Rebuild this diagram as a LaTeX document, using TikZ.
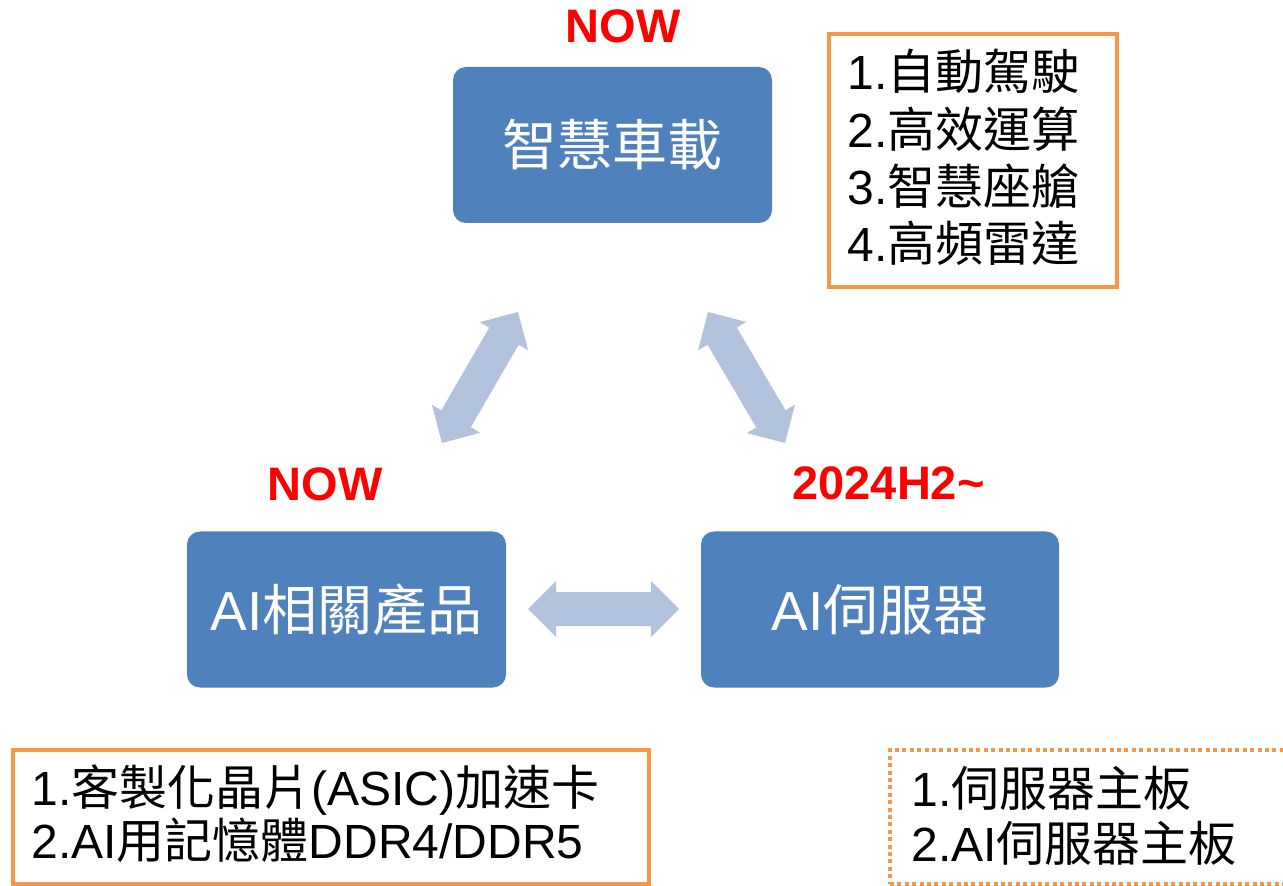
\documentclass[tikz,border=0pt]{standalone}
\usepackage{fontspec}
\setmainfont{Liberation Sans}
\newfontfamily\cjk{Noto Sans CJK TC}
\usetikzlibrary{calc}
\definecolor{boxblue}{HTML}{4F81BD}
\definecolor{arrowblue}{HTML}{B3C2DD}
\definecolor{frameorange}{HTML}{F79646}
\definecolor{labelred}{HTML}{FF0000}
% double block arrow between two tip coordinates
\newcommand\blockarrow[2]{%
  \fill[arrowblue] (#1)
    -- ($(#1)!19.8pt!45:(#2)$) -- ($(#1)!16.38pt!31.26:(#2)$)
    -- ($(#2)!16.38pt!-31.26:(#1)$) -- ($(#2)!19.8pt!-45:(#1)$)
    -- (#2)
    -- ($(#2)!19.8pt!45:(#1)$) -- ($(#2)!16.38pt!31.26:(#1)$)
    -- ($(#1)!16.38pt!-31.26:(#2)$) -- ($(#1)!19.8pt!-45:(#2)$)
    -- cycle;}
\begin{document}
\begin{tikzpicture}[x=0.5pt,y=-0.5pt,
  bluebox/.style={fill=boxblue, rounded corners=6.5pt, text=white,
    font=\fontsize{27.5pt}{33pt}\selectfont, inner sep=0pt,
    minimum height=78pt},
  redlabel/.style={text=labelred, font=\fontsize{23.5pt}{28pt}\selectfont\bfseries,
    anchor=base, inner sep=0pt},
  listtext/.style={font=\fontsize{24pt}{28pt}\selectfont, anchor=base west, inner sep=0pt},
  framebox/.style={draw=frameorange, line width=2.3pt, inner sep=0pt},
  dottedbox/.style={draw=frameorange, line width=2pt, dash pattern=on 2pt off 1.7pt, inner sep=0pt},
  ]
\useasboundingbox (0,0) rectangle (1283,886);

% main boxes
\node[bluebox, minimum width=159.5pt] (car) at (612.5,145) {{\cjk 智慧車載}};
\node[bluebox, minimum width=159.5pt] (prod) at (346.5,609.5) {AI{\cjk 相關產品}};
\node[bluebox, minimum width=179pt] (serv) at (880,609.5) {AI{\cjk 伺服器}};

% red status labels
\node[redlabel] (nowtop) at (623,43) {NOW};
\node[redlabel] (nowleft) at (325,501) {NOW};
\node[redlabel] (h2) at (888.5,500) {2024H2\char`~};

% block arrows
\coordinate (l1) at (442,443);
\coordinate (l2) at (518,312);
\coordinate (r1) at (708,312);
\coordinate (r2) at (785,443);
\coordinate (h1) at (528,609);
\coordinate (h2b) at (679,609);
\blockarrow{l1}{l2}
\blockarrow{r1}{r2}
\blockarrow{h1}{h2b}

% top-right feature box
\node[framebox, minimum width=144pt, minimum height=126.5pt] (feat) at (973,160.5) {};
\node[listtext] (f1) at (847,90) {1.{\cjk 自動駕駛}};
\node[listtext] (f2) at (847,147.5) {2.{\cjk 高效運算}};
\node[listtext] (f3) at (847,205) {3.{\cjk 智慧座艙}};
\node[listtext] (f4) at (847,262) {4.{\cjk 高頻雷達}};

% bottom-left box
\node[framebox, minimum width=318pt, minimum height=67pt] (prodbox) at (331,817) {};
\node[listtext] (p1) at (31,805) {1.{\cjk 客製化晶片}(ASIC){\cjk 加速卡}};
\node[listtext] (p2) at (31,858) {2.AI{\cjk 用記憶體}DDR4/DDR5};

% bottom-right dotted box
\node[dottedbox, minimum width=200pt, minimum height=67pt] (servbox) at (1090,817) {};
\node[listtext] (s1) at (911,806) {1.{\cjk 伺服器主板}};
\node[listtext] (s2) at (911,861) {2.AI{\cjk 伺服器主板}};
\end{tikzpicture}
\end{document}
